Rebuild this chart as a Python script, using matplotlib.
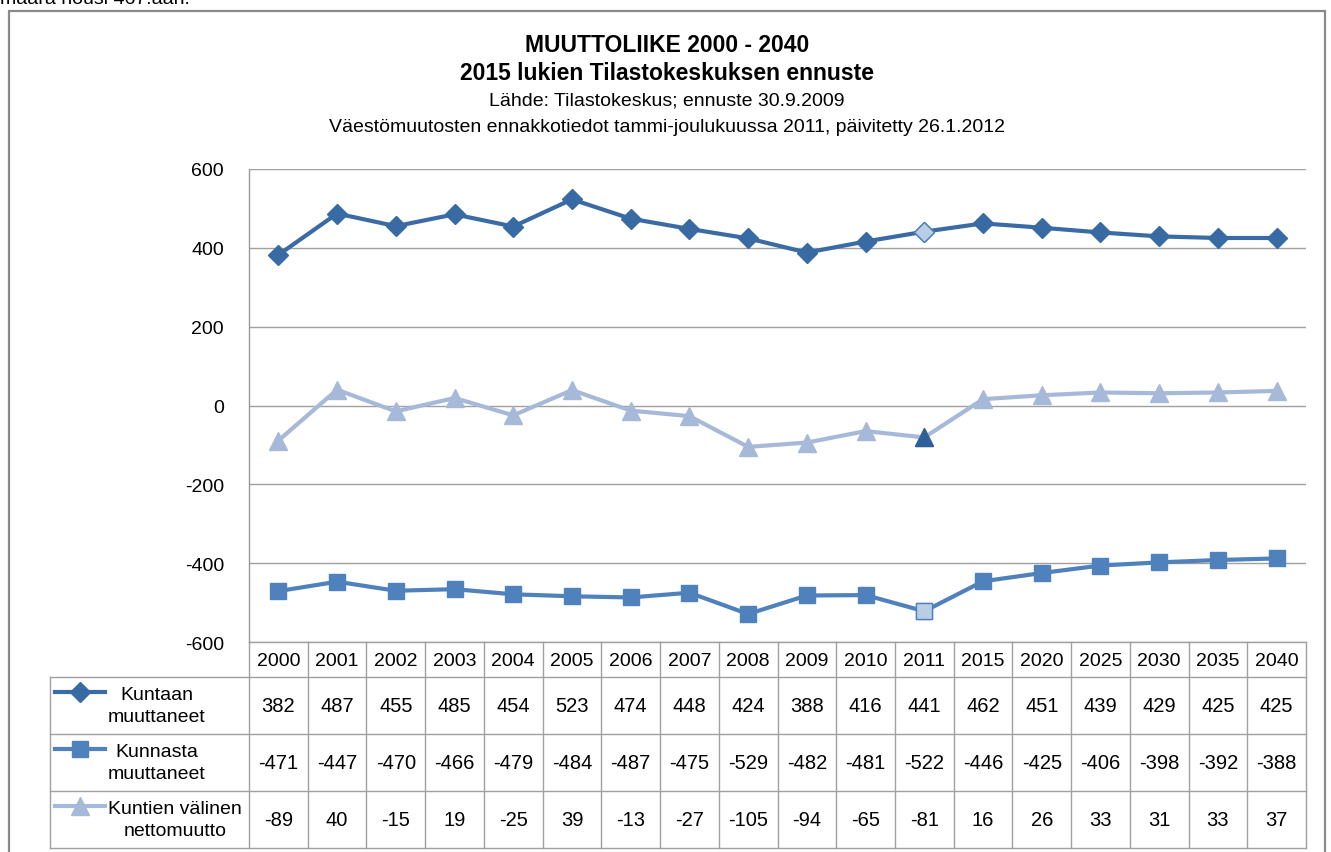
import matplotlib
matplotlib.use("Agg")
import matplotlib.pyplot as plt
from matplotlib.transforms import blended_transform_factory
from matplotlib.lines import Line2D
from matplotlib.patches import Rectangle

plt.rcParams['font.family'] = ['Liberation Sans', 'DejaVu Sans']
plt.rcParams['axes.unicode_minus'] = False

years = ["2000", "2001", "2002", "2003", "2004", "2005", "2006", "2007", "2008",
         "2009", "2010", "2011", "2015", "2020", "2025", "2030", "2035", "2040"]
kuntaan = [382, 487, 455, 485, 454, 523, 474, 448, 424, 388, 416, 441, 462, 451, 439, 429, 425, 425]
kunnasta = [-471, -447, -470, -466, -479, -484, -487, -475, -529, -482, -481, -522, -446, -425, -406, -398, -392, -388]
netto = [-89, 40, -15, 19, -25, 39, -13, -27, -105, -94, -65, -81, 16, 26, 33, 31, 33, 37]
series_names = ["Kuntaan\nmuuttaneet", "Kunnasta\nmuuttaneet", "Kuntien välinen\nnettomuutto"]
highlight_year = "2011"

W, H = 1331, 853
fig = plt.figure(figsize=(W / 100, H / 100), dpi=100)

def fx(px):
    return px / W

def fy(py):
    return 1 - py / H

# outer frame
fig.patches.append(Rectangle((fx(9), fy(870)), fx(1325) - fx(9), fy(12) - fy(870),
                             transform=fig.transFigure, fill=False, edgecolor='#8a8a8a',
                             linewidth=1.6, clip_on=False))
fig.text(fx(0), fy(4), "määrä nousi 467:ään.", fontsize=14, va='baseline', ha='left')

# titles
fig.text(fx(667), fy(45), "MUUTTOLIIKE 2000 - 2040", fontsize=16.5, fontweight='bold', ha='center', va='center')
fig.text(fx(667), fy(74), "2015 lukien Tilastokeskuksen ennuste", fontsize=16.5, fontweight='bold', ha='center', va='center')
fig.text(fx(667), fy(101), "Lähde: Tilastokeskus; ennuste 30.9.2009", fontsize=14, ha='center', va='center')
fig.text(fx(667), fy(128), "Väestömuutosten ennakkotiedot tammi-joulukuussa 2011, päivitetty 26.1.2012",
         fontsize=14, ha='center', va='center')

left, right, top, bottom = 249, 1306, 170, 643
ax = fig.add_axes([fx(left), fy(bottom), fx(right) - fx(left), fy(top) - fy(bottom)])
n = len(years)
x = list(range(n))
ax.set_xlim(-0.5, n - 0.5)
ax.set_ylim(-600, 600)
ax.set_yticks([600, 400, 200, 0, -200, -400, -600])
ax.set_xticks([])
ax.tick_params(axis='y', length=0, pad=18, labelsize=14)
for s in ['top', 'right', 'bottom']:
    ax.spines[s].set_visible(False)
ax.spines['left'].set_color('#999999')
ax.spines['left'].set_linewidth(1.0)
ax.grid(axis='y', color='#a0a0a0', linewidth=1.0)
ax.set_axisbelow(True)

c1, c1m = '#3b6ba5', '#386aa3'
c2 = '#4f81bd'
c3 = '#a6b9d9'
light = '#b9cde5'
dark = '#2f5f98'
hi = years.index(highlight_year)

ax.plot(x, kuntaan, color=c1, linewidth=3.0, marker='D', markersize=10.5,
        markerfacecolor=c1m, markeredgecolor=c1m, zorder=3)
ax.plot([x[hi]], [kuntaan[hi]], linestyle='none', marker='D', markersize=10.5,
        markerfacecolor=light, markeredgecolor=c2, markeredgewidth=1.0, zorder=4)
ax.plot(x, kunnasta, color=c2, linewidth=3.0, marker='s', markersize=11,
        markerfacecolor=c2, markeredgecolor=c2, zorder=3)
ax.plot([x[hi]], [kunnasta[hi]], linestyle='none', marker='s', markersize=11,
        markerfacecolor=light, markeredgecolor=c2, markeredgewidth=1.0, zorder=4)
ax.plot(x, netto, color=c3, linewidth=3.0, marker='^', markersize=12.5,
        markerfacecolor=c3, markeredgecolor=c3, zorder=3)
ax.plot([x[hi]], [netto[hi]], linestyle='none', marker='^', markersize=12.5,
        markerfacecolor=dark, markeredgecolor=dark, zorder=4)

# data table
tr = blended_transform_factory(ax.transData, ax.transAxes)
ph = bottom - top
def ay(py):
    return (bottom - py) / ph

row_edges = [643, 678, 735, 792, 849]
colw = (right - left) / n
leg_left = -0.5 - (left - 50) / colw
gc = '#a0a0a0'
lw = 1.0
ax.add_line(Line2D([-0.5, n - 0.5], [ay(643), ay(643)], transform=tr, color=gc, lw=lw, clip_on=False))
for ry in row_edges[1:]:
    ax.add_line(Line2D([leg_left, n - 0.5], [ay(ry), ay(ry)], transform=tr, color=gc, lw=lw, clip_on=False))
for i in range(n + 1):
    ax.add_line(Line2D([i - 0.5, i - 0.5], [ay(643), ay(849)], transform=tr, color=gc, lw=lw, clip_on=False))
ax.add_line(Line2D([leg_left, leg_left], [ay(678), ay(849)], transform=tr, color=gc, lw=lw, clip_on=False))

for i, yr in enumerate(years):
    ax.text(i, ay(661), yr, transform=tr, ha='center', va='center', fontsize=14, clip_on=False)

rows = [kuntaan, kunnasta, netto]
styles = [(c1, 'D', c1m, 10.5), (c2, 's', c2, 11), (c3, '^', c3, 12.5)]
for r, vals in enumerate(rows):
    y0, y1 = row_edges[r + 1], row_edges[r + 2]
    ymid = (y0 + y1) / 2
    for i, v in enumerate(vals):
        ax.text(i, ay(ymid), str(v), transform=tr, ha='center', va='center', fontsize=14.5, clip_on=False)
    col, mk, mfc, ms = styles[r]
    lx0 = leg_left + (55 - 50) / colw
    lx1 = leg_left + (105 - 50) / colw
    lxm = leg_left + (80 - 50) / colw
    ly = ay(y0 + 15)
    ax.add_line(Line2D([lx0, lx1], [ly, ly], transform=tr, color=col, lw=3.0, clip_on=False))
    ax.add_line(Line2D([lxm], [ly], transform=tr, marker=mk, markersize=ms, color=mfc,
                       linestyle='none', clip_on=False))
    tx = leg_left + (108 - 50) / colw
    ax.text(tx, ay(ymid), series_names[r], transform=tr, ha='left', va='center',
            fontsize=14, linespacing=1.45, multialignment='center', clip_on=False)

fig.savefig("out.png", dpi=100)
